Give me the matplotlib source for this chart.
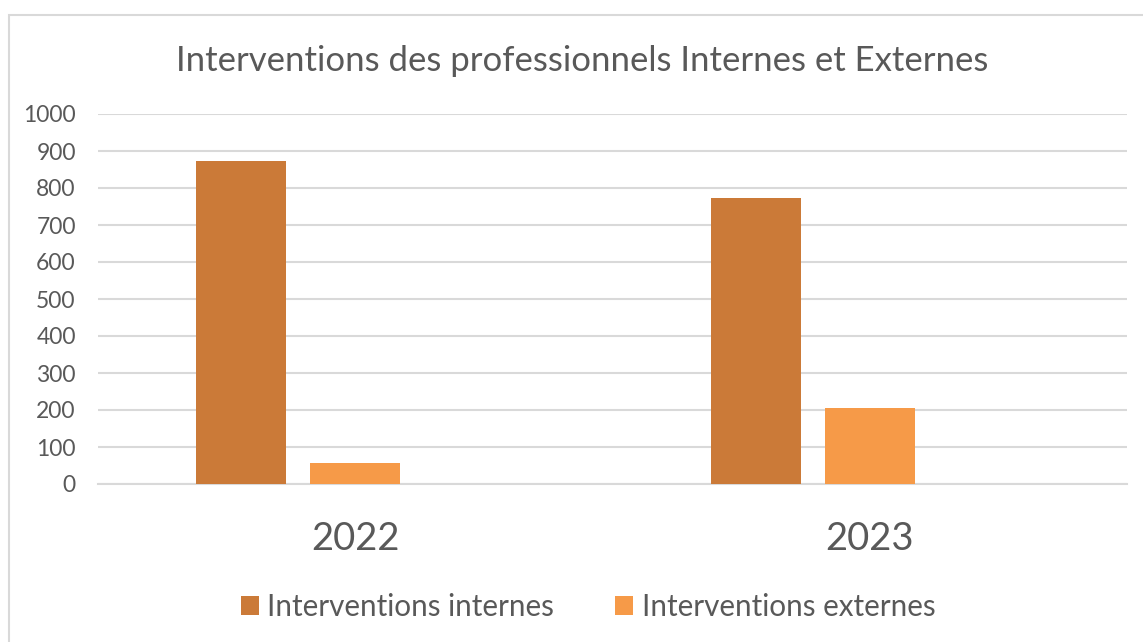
import matplotlib.pyplot as plt
import numpy as np
from matplotlib.patches import Rectangle

plt.rcParams['font.family'] = ['Lato', 'DejaVu Sans']

# data
years = ['2022', '2023']
internes = [872, 773]
externes = [57, 205]
series_names = ['Interventions internes', 'Interventions externes']
colors = ['#CB7A38', '#F69A48']
text_col = '#595959'
grid_col = '#D9D9D9'

fig = plt.figure(figsize=(11.43, 6.42), dpi=100)

# chart area border (runs past the right/bottom edges in the screenshot)
fig.patches.append(Rectangle((9 / 1143, -0.05), 1.2, (642 - 15) / 642 + 0.05,
                             transform=fig.transFigure, fill=False,
                             edgecolor=grid_col, linewidth=1.5))

ax = fig.add_axes([98 / 1143, 158 / 642, 1029 / 1143, 370 / 642])

x = np.arange(len(years))
width = 90 / 514.5
step = 114 / 514.5
ax.bar(x - step, internes, width, color=colors[0], label=series_names[0], zorder=3)
ax.bar(x, externes, width, color=colors[1], label=series_names[1], zorder=3)

ax.set_xlim(-0.5, len(years) - 0.5)
ax.set_ylim(0, 1000)
ax.set_yticks(range(0, 1001, 100))
ax.yaxis.grid(True, color=grid_col, linewidth=1.5, zorder=0)
ax.tick_params(axis='y', length=0, pad=16, labelsize=16.5, labelcolor=text_col)
ax.tick_params(axis='x', length=0, pad=27, labelsize=27.5, labelcolor=text_col)
ax.set_xticks(x)
ax.set_xticklabels(years)
for s in ['top', 'right', 'left']:
    ax.spines[s].set_visible(False)
ax.spines['bottom'].set_color(grid_col)
ax.spines['bottom'].set_linewidth(1.5)

fig.text(582.5 / 1143, 1 - 61 / 642, 'Interventions des professionnels Internes et Externes',
         ha='center', va='center', fontsize=25, color=text_col)

leg = fig.legend(loc='center', bbox_to_anchor=(588 / 1143, 1 - 607 / 642), ncol=2,
                 frameon=False, fontsize=21.3, labelcolor=text_col,
                 handlelength=0.6, handleheight=0.6, handletextpad=0.3,
                 columnspacing=2.05)

plt.savefig('out.png', dpi=100, facecolor='white')
